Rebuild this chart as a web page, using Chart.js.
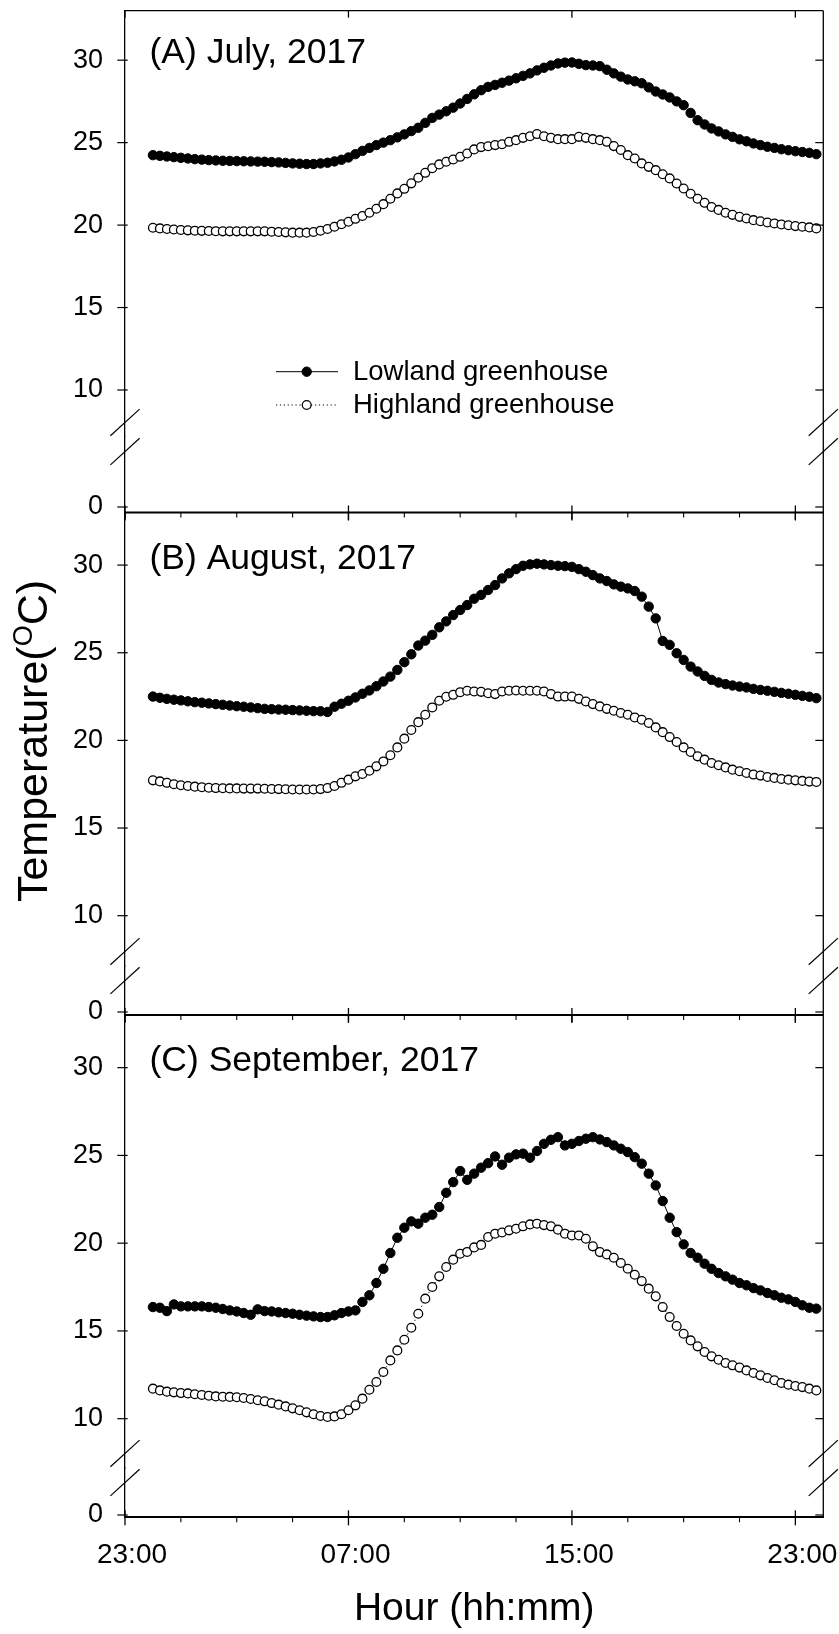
<!DOCTYPE html>
<html>
<head>
<meta charset="utf-8">
<title>Greenhouse air temperature, July - September 2017</title>
<script src="https://cdn.jsdelivr.net/npm/chart.js@4.4.1/dist/chart.umd.min.js"></script>
<style>
  html, body { margin: 0; padding: 0; background: #fff; }
  canvas { display: block; }
</style>
</head>
<body>
<canvas id="tempChart" width="839" height="1634"></canvas>
<script>
// 15-minute averages over one day (00:00 - 23:45)
const sampleTimes = [
  '00:00','00:15','00:30','00:45','01:00','01:15','01:30','01:45',
  '02:00','02:15','02:30','02:45','03:00','03:15','03:30','03:45',
  '04:00','04:15','04:30','04:45','05:00','05:15','05:30','05:45',
  '06:00','06:15','06:30','06:45','07:00','07:15','07:30','07:45',
  '08:00','08:15','08:30','08:45','09:00','09:15','09:30','09:45',
  '10:00','10:15','10:30','10:45','11:00','11:15','11:30','11:45',
  '12:00','12:15','12:30','12:45','13:00','13:15','13:30','13:45',
  '14:00','14:15','14:30','14:45','15:00','15:15','15:30','15:45',
  '16:00','16:15','16:30','16:45','17:00','17:15','17:30','17:45',
  '18:00','18:15','18:30','18:45','19:00','19:15','19:30','19:45',
  '20:00','20:15','20:30','20:45','21:00','21:15','21:30','21:45',
  '22:00','22:15','22:30','22:45','23:00','23:15','23:30','23:45'
];

const julyLowland = [
  24.24, 24.20, 24.16, 24.12, 24.08, 24.04, 24.00, 23.97, 23.94, 23.92, 23.90, 23.89,
  23.88, 23.87, 23.86, 23.85, 23.84, 23.82, 23.80, 23.77, 23.74, 23.72, 23.70, 23.70,
  23.74, 23.78, 23.86, 23.96, 24.10, 24.30, 24.50, 24.68, 24.85, 25.00, 25.15, 25.32,
  25.50, 25.70, 25.90, 26.20, 26.50, 26.70, 26.90, 27.12, 27.37, 27.65, 27.93, 28.18,
  28.38, 28.50, 28.63, 28.76, 28.90, 29.05, 29.20, 29.38, 29.54, 29.68, 29.80, 29.85,
  29.86, 29.78, 29.70, 29.68, 29.64, 29.42, 29.20, 29.00, 28.83, 28.72, 28.60, 28.35,
  28.10, 27.92, 27.74, 27.50, 27.27, 26.80, 26.36, 26.10, 25.86, 25.68, 25.50, 25.35,
  25.20, 25.08, 24.95, 24.85, 24.75, 24.68, 24.60, 24.54, 24.48, 24.43, 24.38, 24.30
];
const julyHighland = [
  19.84, 19.80, 19.76, 19.73, 19.70, 19.68, 19.66, 19.65, 19.64, 19.63, 19.62, 19.62,
  19.62, 19.62, 19.62, 19.62, 19.62, 19.60, 19.58, 19.56, 19.54, 19.54, 19.54, 19.58,
  19.66, 19.76, 19.90, 20.05, 20.20, 20.38, 20.55, 20.75, 20.99, 21.27, 21.60, 21.92,
  22.20, 22.53, 22.87, 23.17, 23.45, 23.68, 23.84, 23.98, 24.14, 24.34, 24.59, 24.73,
  24.78, 24.85, 24.90, 25.05, 25.15, 25.29, 25.39, 25.52, 25.39, 25.29, 25.21, 25.21,
  25.21, 25.35, 25.29, 25.21, 25.15, 25.05, 24.79, 24.55, 24.24, 24.04, 23.74, 23.53,
  23.33, 23.08, 22.83, 22.52, 22.22, 21.90, 21.60, 21.35, 21.10, 20.92, 20.75, 20.62,
  20.50, 20.40, 20.30, 20.23, 20.16, 20.10, 20.04, 19.99, 19.94, 19.90, 19.86, 19.80
];
const augustLowland = [
  22.50, 22.43, 22.37, 22.32, 22.28, 22.23, 22.18, 22.15, 22.11, 22.07, 22.03, 21.99,
  21.95, 21.92, 21.88, 21.84, 21.80, 21.78, 21.76, 21.75, 21.73, 21.71, 21.69, 21.67,
  21.66, 21.62, 21.92, 22.09, 22.26, 22.45, 22.66, 22.85, 23.09, 23.36, 23.64, 24.02,
  24.46, 24.91, 25.41, 25.69, 26.02, 26.45, 26.79, 27.15, 27.44, 27.72, 28.08, 28.30,
  28.58, 28.86, 29.24, 29.53, 29.77, 29.96, 30.04, 30.08, 30.04, 30.00, 29.96, 29.94,
  29.90, 29.77, 29.62, 29.43, 29.24, 29.09, 28.90, 28.77, 28.67, 28.52, 28.20, 27.63,
  26.96, 25.67, 25.45, 24.97, 24.59, 24.21, 23.93, 23.68, 23.45, 23.30, 23.21, 23.13,
  23.07, 23.02, 22.94, 22.88, 22.83, 22.77, 22.71, 22.66, 22.60, 22.54, 22.49, 22.41
];
const augustHighland = [
  17.72, 17.66, 17.58, 17.50, 17.44, 17.40, 17.36, 17.33, 17.30, 17.28, 17.27, 17.26,
  17.26, 17.25, 17.25, 17.25, 17.24, 17.23, 17.22, 17.21, 17.20, 17.20, 17.20, 17.20,
  17.22, 17.28, 17.40, 17.58, 17.76, 17.95, 18.08, 18.27, 18.52, 18.80, 19.15, 19.60,
  20.10, 20.59, 21.04, 21.46, 21.88, 22.26, 22.49, 22.60, 22.75, 22.83, 22.79, 22.77,
  22.69, 22.64, 22.79, 22.83, 22.85, 22.83, 22.83, 22.83, 22.79, 22.64, 22.50, 22.50,
  22.50, 22.37, 22.22, 22.07, 21.94, 21.80, 21.69, 21.56, 21.46, 21.31, 21.18, 20.99,
  20.74, 20.47, 20.19, 19.91, 19.60, 19.34, 19.09, 18.90, 18.71, 18.58, 18.46, 18.33,
  18.24, 18.14, 18.05, 17.99, 17.91, 17.86, 17.80, 17.76, 17.72, 17.69, 17.65, 17.63
];
const septemberLowland = [
  16.36, 16.32, 16.13, 16.51, 16.40, 16.40, 16.40, 16.40, 16.36, 16.32, 16.25, 16.17,
  16.11, 16.02, 15.92, 16.23, 16.13, 16.11, 16.06, 16.02, 15.98, 15.92, 15.87, 15.83,
  15.79, 15.79, 15.89, 16.02, 16.11, 16.17, 16.65, 17.03, 17.73, 18.54, 19.44, 20.31,
  20.88, 21.24, 21.11, 21.45, 21.62, 22.06, 22.87, 23.48, 24.11, 23.61, 23.96, 24.30,
  24.56, 24.94, 24.47, 24.87, 25.06, 25.10, 24.87, 25.25, 25.66, 25.89, 26.04, 25.57,
  25.66, 25.82, 25.95, 26.04, 25.91, 25.76, 25.57, 25.38, 25.19, 24.90, 24.53, 23.96,
  23.29, 22.40, 21.45, 20.63, 19.93, 19.44, 19.17, 18.83, 18.54, 18.30, 18.11, 17.92,
  17.73, 17.60, 17.44, 17.31, 17.16, 17.03, 16.89, 16.80, 16.65, 16.46, 16.32, 16.27
];
const septemberHighland = [
  11.71, 11.61, 11.54, 11.50, 11.46, 11.44, 11.39, 11.35, 11.31, 11.27, 11.25, 11.24,
  11.22, 11.18, 11.12, 11.05, 10.99, 10.89, 10.80, 10.70, 10.59, 10.48, 10.36, 10.25,
  10.15, 10.10, 10.13, 10.25, 10.48, 10.76, 11.14, 11.65, 12.09, 12.66, 13.32, 13.89,
  14.50, 15.18, 15.98, 16.84, 17.50, 18.11, 18.64, 19.06, 19.40, 19.50, 19.76, 19.90,
  20.35, 20.54, 20.61, 20.73, 20.82, 20.96, 21.07, 21.11, 21.03, 20.96, 20.77, 20.54,
  20.44, 20.44, 20.25, 19.82, 19.49, 19.36, 19.17, 18.87, 18.54, 18.20, 17.84, 17.41,
  16.97, 16.36, 15.79, 15.28, 14.84, 14.46, 14.12, 13.80, 13.55, 13.36, 13.17, 13.04,
  12.91, 12.75, 12.60, 12.47, 12.32, 12.19, 12.03, 11.94, 11.86, 11.80, 11.71, 11.61
];

const panelTitles = ['(A) July, 2017', '(B) August, 2017', '(C) September, 2017'];
const seriesNames = ['Lowland greenhouse', 'Highland greenhouse'];
const yTickValues = [10, 15, 20, 25, 30];
const yBreakTickValues = [0];
// x axis runs in hours counted from 23:00 of the previous day
const xTickHours = [0, 8, 16, 24];
const xTickLabels = ['23:00', '07:00', '15:00', '23:00'];
const xMinorHours = [2, 4, 6, 10, 12, 14, 18, 20, 22];
const yTitleParts = ['Temperature(', 'O', 'C)'];
const xTitle = 'Hour (hh:mm)';

const FONT = '"Liberation Sans", Arial, Helvetica, sans-serif';
Chart.defaults.font.family = FONT;
Chart.defaults.color = '#000';

function hoursFrom23(t) {
  const [h, m] = t.split(':').map(Number);
  return h + m / 60 + 1;
}
function toPoints(values) {
  return values.map((v, i) => ({ x: hoursFrom23(sampleTimes[i]), y: v }));
}

// each panel: upper part of the axis (7..33) plus a short broken piece holding 0
const panels = [
  { id: 'A', title: panelTitles[0], low: julyLowland, high: julyHighland,
    upperH: 426.3, lowerH: 75.5, min: 7.15, breakMin: -0.55, breakMax: 7.0 },
  { id: 'B', title: panelTitles[1], low: augustLowland, high: augustHighland,
    upperH: 453.5, lowerH: 49.0, min: 7.13, breakMin: -0.30, breakMax: 4.6 },
  { id: 'C', title: panelTitles[2], low: septemberLowland, high: septemberHighland,
    upperH: 453.0, lowerH: 49.3, min: 7.19, breakMin: -0.23, breakMax: 4.7 }
];

const lowlandStyle = {
  borderColor: '#000', borderWidth: 1, backgroundColor: '#000',
  pointRadius: 4.7, pointBackgroundColor: '#000', pointBorderColor: '#000', pointBorderWidth: 1,
  tension: 0, fill: false
};
const highlandStyle = {
  borderColor: '#000', borderWidth: 1, borderDash: [1.2, 2.7], backgroundColor: '#fff',
  pointRadius: 4.4, pointBackgroundColor: '#fff', pointBorderColor: '#000', pointBorderWidth: 1.3,
  tension: 0, fill: false
};

const yTickFont = { family: FONT, size: 27 };
const xTickFont = { family: FONT, size: 28 };

function fitY(scale) {
  scale.width = 125;
  scale.paddingTop = 0;
  scale.paddingBottom = 0;
}

const scales = {
  x: {
    type: 'linear', position: 'bottom', min: 0, max: 25,
    afterBuildTicks: s => {
      s.ticks = xTickHours.concat(xMinorHours).sort((a, b) => a - b).map(v => ({ value: v }));
    },
    ticks: {
      autoSkip: false, maxRotation: 0, padding: 21, labelOffset: 7, color: '#000', font: xTickFont,
      callback: v => {
        const k = xTickHours.indexOf(v);
        return k < 0 ? '' : xTickLabels[k];
      }
    },
    grid: { display: false, drawTicks: false },
    border: { display: true, color: '#000', width: 2 },
    title: { display: true, text: xTitle, color: '#000', font: { family: FONT, size: 39 }, padding: { top: 0, bottom: 1 } },
    afterFit: s => { s.height = 116.7; s.paddingLeft = 0; s.paddingRight = 0; }
  }
};

const datasets = [];
panels.forEach((p, k) => {
  scales['y' + p.id] = {
    type: 'linear', position: 'left', stack: 'panels', stackWeight: p.upperH, weight: 6 - 2 * k,
    min: p.min, max: 33,
    afterBuildTicks: s => { s.ticks = yTickValues.map(v => ({ value: v })); },
    ticks: { padding: 22, color: '#000', font: yTickFont },
    grid: { display: false, drawTicks: false },
    border: { display: true, color: '#000', width: 1.3 },
    afterFit: fitY
  };
  scales['y' + p.id + 'Break'] = {
    type: 'linear', position: 'left', stack: 'panels', stackWeight: p.lowerH, weight: 5 - 2 * k,
    min: p.breakMin, max: p.breakMax,
    afterBuildTicks: s => { s.ticks = yBreakTickValues.map(v => ({ value: v })); },
    ticks: { padding: 22, color: '#000', font: yTickFont },
    grid: { display: false, drawTicks: false },
    border: { display: true, color: '#000', width: 1.3 },
    afterFit: fitY
  };
  datasets.push(Object.assign({ label: seriesNames[0], data: toPoints(p.low), xAxisID: 'x', yAxisID: 'y' + p.id }, lowlandStyle));
  datasets.push(Object.assign({ label: seriesNames[1], data: toPoints(p.high), xAxisID: 'x', yAxisID: 'y' + p.id }, highlandStyle));
});

function seg(ctx, x1, y1, x2, y2, w) {
  ctx.lineWidth = w;
  ctx.beginPath();
  ctx.moveTo(x1, y1);
  ctx.lineTo(x2, y2);
  ctx.stroke();
}

// frame, tick marks, axis breaks, panel titles, legend and the y title
const panelDecor = {
  id: 'panelDecor',
  afterDraw(chart) {
    const ctx = chart.ctx;
    const area = chart.chartArea;
    const xs = chart.scales.x;
    ctx.save();
    ctx.strokeStyle = '#000';
    ctx.fillStyle = '#000';
    ctx.lineCap = 'butt';

    seg(ctx, area.left, area.top, area.right, area.top, 1.3);
    seg(ctx, area.right, area.top, area.right, area.bottom, 1.3);

    panels.forEach((p, k) => {
      const up = chart.scales['y' + p.id];
      const br = chart.scales['y' + p.id + 'Break'];
      const top = up.top;
      const bottom = br.bottom;
      if (k < panels.length - 1) seg(ctx, area.left, bottom, area.right, bottom, 2);

      xTickHours.forEach(h => {
        const px = xs.getPixelForValue(h);
        seg(ctx, px, bottom - 7, px, bottom + 8, 1.3);
        seg(ctx, px, top, px, top + 7, 1.3);
      });
      xMinorHours.forEach(h => {
        const px = xs.getPixelForValue(h);
        seg(ctx, px, bottom, px, bottom + 5, 1.1);
      });

      const tickY = yTickValues.map(v => up.getPixelForValue(v))
        .concat(yBreakTickValues.map(v => br.getPixelForValue(v)));
      tickY.forEach(py => {
        seg(ctx, area.left - 7.7, py, area.left + 2.7, py, 1.2);
        seg(ctx, area.right - 8, py, area.right, py, 1.2);
      });

      const by = up.bottom;
      [area.left, area.right].forEach(ax => {
        [-14.6, 14.6].forEach(d => seg(ctx, ax - 14.6, by + d + 13.3, ax + 14.6, by + d - 13.3, 1.2));
      });

      ctx.font = '35.5px ' + FONT;
      ctx.textAlign = 'left';
      ctx.textBaseline = 'alphabetic';
      ctx.fillText(p.title, area.left + 24.5, up.getPixelForValue(29.8));
    });

    // legend inside panel A
    [{ ds: 0, dy: 361 }, { ds: 1, dy: 394.3 }].forEach(r => {
      const d = chart.data.datasets[r.ds];
      const y = area.top + r.dy;
      ctx.setLineDash(d.borderDash || []);
      seg(ctx, area.left + 151, y, area.left + 213, y, 1);
      ctx.setLineDash([]);
      ctx.beginPath();
      ctx.arc(area.left + 181.7, y, d.pointRadius, 0, Math.PI * 2);
      ctx.fillStyle = d.pointBackgroundColor;
      ctx.fill();
      ctx.lineWidth = d.pointBorderWidth;
      ctx.stroke();
      ctx.fillStyle = '#000';
      ctx.font = '27.5px ' + FONT;
      ctx.textAlign = 'left';
      ctx.textBaseline = 'middle';
      ctx.fillText(d.label, area.left + 228, y + 0.8);
    });

    // rotated y title with superscript O
    ctx.translate(47, 741);
    ctx.rotate(-Math.PI / 2);
    ctx.textBaseline = 'alphabetic';
    ctx.textAlign = 'left';
    const big = '43px ' + FONT;
    const small = '27px ' + FONT;
    ctx.font = big;
    const w1 = ctx.measureText(yTitleParts[0]).width;
    const w3 = ctx.measureText(yTitleParts[2]).width;
    ctx.font = small;
    const w2 = ctx.measureText(yTitleParts[1]).width;
    const x0 = -(w1 + w2 + w3) / 2;
    ctx.font = big;
    ctx.fillText(yTitleParts[0], x0, 0);
    ctx.font = small;
    ctx.fillText(yTitleParts[1], x0 + w1, -15);
    ctx.font = big;
    ctx.fillText(yTitleParts[2], x0 + w1 + w2, 0);
    ctx.restore();
  }
};

new Chart(document.getElementById('tempChart').getContext('2d'), {
  type: 'line',
  data: { datasets: datasets },
  options: {
    responsive: false,
    animation: false,
    devicePixelRatio: 1,
    layout: { padding: { top: 10.7, right: 15.7, bottom: 0, left: 0 } },
    scales: scales,
    plugins: {
      legend: { display: false },
      tooltip: { enabled: false }
    }
  },
  plugins: [panelDecor]
});
</script>
</body>
</html>
